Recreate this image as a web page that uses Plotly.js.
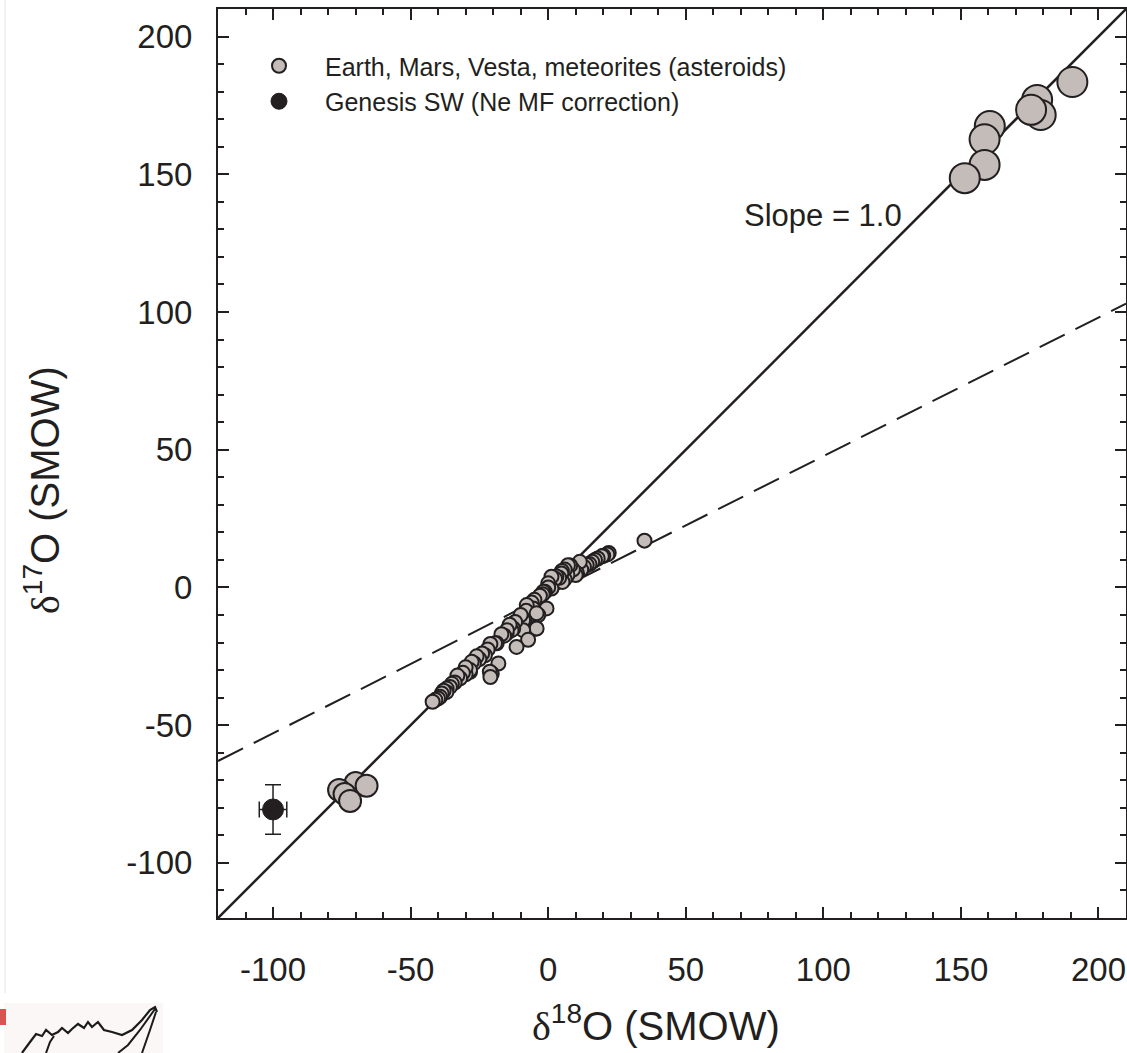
<!DOCTYPE html>
<html>
<head>
<meta charset="utf-8">
<script src="https://cdn.plot.ly/plotly-3.0.1.min.js"></script>
<style>
  html, body { margin:0; padding:0; background:#ffffff; }
  #chart { width:1127px; height:1053px; }
</style>
</head>
<body>
<div id="chart"></div>
<script>
// ---- data ----
const smallX = [35, 22, 21.5, 20, 19.5, 18, 17, 16, 15, 14, 13, 12, 11.5, 10.5, 10, 9, 8, 7.2, 7, 6, 6, 5, 4.8, 5.2, 4, 3, 2.5,
  1.2, 1.2, 0, 0, -1.2, -1.8, -2, -3, -5, -6, -0.6, -5.5, -7.8, -8, -3.6, -4.2, -8.5, -9.1, -10, -4.8, -4.2, -9.1,
  -12, -12.7, -13.3, -14, -15.1, -15, -16, -17, -7.3, -11.5, -18.7, -19.3, -21, -22, -23, -24, -25, -26, -18.1,
  -27, -27.8, -20.5, -21.2, -21, -28.4, -28.4, -30, -30, -31, -32, -33, -34, -35, -35.7, -36.9, -37, -38, -38.7,
  -39.3, -40, -41, -42];
const smallY = [17, 12.5, 12, 11.5, 11.3, 10.5, 10, 9.3, 8.5, 8.2, 7.5, 6.5, 9.3, 5.1, 4.5, 6.5, 8, 8.1, 4.5, 6.5, 3, 6, 5.1,
  2, 3.5, 4, 3.2, 3.9, -0.4, 1.5, 0, -1.6, -1.6, -2.5, -3, -4.5, -5.5, -7.6, -7.6, -6.4, -8.5, -10, -9.4, -11.9,
  -11.9, -10, -15, -14.9, -15.5, -12.5, -14.9, -15.5, -13.5, -16.7, -15.5, -17.5, -17, -19, -21.6, -20.3, -20.3,
  -20.5, -22.5, -24.6, -24, -26, -25, -27.6, -27.5, -27, -31.2, -30.6, -32.5, -30.6, -30, -31.5, -29, -31, -33,
  -32, -34.5, -35, -36.1, -36.7, -38, -37.5, -38.5, -39.7, -40.3, -40.8, -41.5];

const lowX = [-70, -66, -76, -74, -72];
const lowY = [-71, -72, -73.5, -75, -77.5];

const highX = [190.5, 177.7, 179, 175.5, 160.5, 158.6, 158.6, 151.4];
const highY = [183.5, 177, 171.5, 173.4, 167.5, 162.7, 153.4, 148.6];

const genesisX = [-100];
const genesisY = [-80.6];
const genesisErrX = [5];
const genesisErrY = [9];

const slopeLineX = [-120, 210];
const slopeLineY = [-120, 210];
const tflX = [-120, 210];
const tflY = [-63, 103];

const tickVals = [-100, -50, 0, 50, 100, 150, 200];
const tickText = ['-100', '-50', '0', '50', '100', '150', '200'];

const seriesNames = ['Earth, Mars, Vesta, meteorites (asteroids)', 'Genesis SW (Ne MF correction)'];

// ---- styling ----
const INK = '#231f20';
const GRAY = '#c3bcb9';
const FONT = 'Liberation Sans, Arial, Helvetica, sans-serif';

const traces = [
  { x: slopeLineX, y: slopeLineY, mode: 'lines', line: {color: INK, width: 2.5}, showlegend: false, hoverinfo: 'skip' },
  { x: tflX, y: tflY, mode: 'lines', line: {color: INK, width: 2, dash: '28px,12px'}, showlegend: false, hoverinfo: 'skip' },
  { x: smallX, y: smallY, mode: 'markers', name: seriesNames[0], legendgroup: 'a',
    marker: {size: 14, color: GRAY, line: {color: INK, width: 2}} },
  { x: lowX, y: lowY, mode: 'markers', legendgroup: 'a', showlegend: false,
    marker: {size: 22, color: GRAY, line: {color: INK, width: 2}} },
  { x: highX, y: highY, mode: 'markers', legendgroup: 'a', showlegend: false,
    marker: {size: 30, color: GRAY, line: {color: INK, width: 2}} },
  { x: genesisX, y: genesisY, mode: 'markers', name: seriesNames[1], legendgroup: 'b',
    marker: {size: 21, color: INK, line: {color: INK, width: 1}},
    error_x: {type: 'data', array: genesisErrX, visible: true, color: INK, thickness: 1.5, width: 8},
    error_y: {type: 'data', array: genesisErrY, visible: true, color: INK, thickness: 1.5, width: 8} }
];

// helpers for pixel -> paper placement of decorations
const L = 218, R = 1126, T = 9, B = 918;
const px = v => (v - L) / (R - L);
const py = v => (B - v) / (B - T);
function pathFrom(points) {
  return points.map((p, i) => (i ? 'L' : 'M') + px(p[0]).toFixed(4) + ',' + py(p[1]).toFixed(4)).join(' ');
}

const axisCommon = {
  range: [-120, 210], autorange: false,
  showline: true, linewidth: 2, linecolor: INK, mirror: 'ticks',
  ticks: 'inside', ticklen: 11, tickwidth: 1.5, tickcolor: INK,
  minor: {ticks: 'inside', dtick: 10, ticklen: 6, tickwidth: 1.5, tickcolor: INK, showgrid: false},
  showgrid: false, zeroline: false,
  tickmode: 'array', tickvals: tickVals, ticktext: tickText,
  tickfont: {family: FONT, size: 33, color: INK}
};

const layout = {
  width: 1127, height: 1053,
  margin: {l: L, r: 1127 - R, t: T, b: 1053 - B},
  paper_bgcolor: '#ffffff', plot_bgcolor: '#ffffff',
  font: {family: FONT, color: INK},
  xaxis: Object.assign({}, axisCommon, {ticklabelstandoff: 21}),
  yaxis: Object.assign({}, axisCommon, {ticklabelstandoff: 17}),
  showlegend: true,
  legend: {x: px(233), y: py(43), xanchor: 'left', yanchor: 'top', bgcolor: 'rgba(0,0,0,0)',
           font: {family: FONT, size: 25, color: INK}, itemsizing: 'trace', itemwidth: 82,
           tracegroupgap: 0, traceorder: 'grouped'},
  annotations: [
    {xref: 'paper', yref: 'paper', x: px(656), y: py(1024), xanchor: 'center', yanchor: 'middle', showarrow: false,
     text: '<span style="font-family:Liberation Serif">δ</span><sup>18</sup>O (SMOW)',
     font: {family: FONT, size: 40, color: INK}},
    {xref: 'paper', yref: 'paper', x: px(43), y: py(490), xanchor: 'center', yanchor: 'middle', showarrow: false,
     textangle: -90,
     text: '<span style="font-family:Liberation Serif">δ</span><sup>17</sup>O (SMOW)',
     font: {family: FONT, size: 40, color: INK}},
    {xref: 'x', yref: 'y', x: 100, y: 135, xanchor: 'center', yanchor: 'middle', showarrow: false,
     text: 'Slope = 1.0', font: {family: FONT, size: 31, color: INK}}
  ],
  shapes: [
    // faint scan edge at the left
    {type: 'line', xref: 'paper', yref: 'paper', x0: px(5), x1: px(5), y0: py(0), y1: py(993),
     line: {color: '#dfe5ea', width: 1}},
    // cropped logo box bottom-left
    {type: 'rect', xref: 'paper', yref: 'paper', x0: px(4), x1: px(163), y0: py(1003), y1: py(1053),
     fillcolor: '#fcf7f7', line: {width: 0}, layer: 'below'},
    {type: 'rect', xref: 'paper', yref: 'paper', x0: px(0), x1: px(6), y0: py(1009), y1: py(1025),
     fillcolor: '#d9534f', line: {width: 0}},
    {type: 'path', xref: 'paper', yref: 'paper', line: {color: '#1b1b1b', width: 2.2},
     path: pathFrom([[22,1053],[30,1042],[36,1034],[42,1036],[46,1030],[52,1035],[58,1032],[62,1028],[68,1033],[72,1029],
                     [78,1024],[84,1028],[88,1022],[92,1027],[98,1022],[104,1030],[112,1032],[122,1035],[132,1030],
                     [142,1020],[150,1010],[155,1007],[157,1012]])},
    {type: 'path', xref: 'paper', yref: 'paper', line: {color: '#1b1b1b', width: 2},
     path: pathFrom([[155,1009],[140,1030],[128,1045],[118,1053]])},
    {type: 'path', xref: 'paper', yref: 'paper', line: {color: '#1b1b1b', width: 2},
     path: pathFrom([[156,1012],[150,1030],[142,1053]])},
    {type: 'path', xref: 'paper', yref: 'paper', line: {color: '#1b1b1b', width: 2},
     path: pathFrom([[46,1053],[50,1042],[54,1036]])}
  ]
};

Plotly.newPlot('chart', traces, layout, {displayModeBar: false, responsive: false});
</script>
</body>
</html>
